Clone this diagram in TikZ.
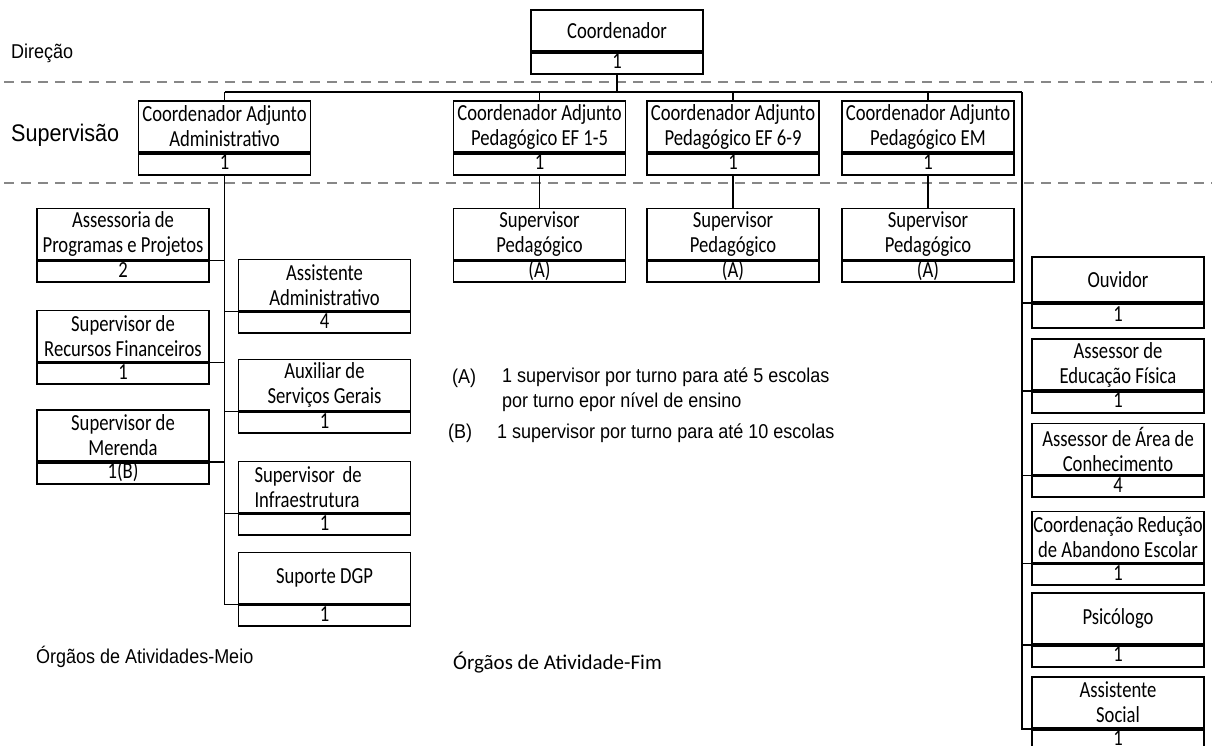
\documentclass[tikz,border=0pt]{standalone}
\usepackage{fontspec}
\usepackage{xcolor}
\usetikzlibrary{positioning}
\newfontfamily\boxfont[FakeStretch=0.81]{Carlito}
\newfontfamily\fimfont{Carlito}
\newfontfamily\labelfont[FakeStretch=0.9]{Liberation Sans}
\definecolor{sepgray}{RGB}{135,135,135}

\tikzset{
  namebox/.style={draw, line width=1.8pt, minimum width=172pt, minimum height=51pt,
    inner sep=0pt, align=center, font=\boxfont\fontsize{23}{25}\selectfont},
  countbox/.style={draw, line width=1.8pt, minimum width=172pt, minimum height=21pt,
    inner sep=0pt, text height=16pt, text depth=5pt, font=\boxfont\fontsize{23}{25}\selectfont},
  link/.style={line width=1.4pt},
  sepline/.style={sepgray, line width=1.4pt, dash pattern=on 10pt off 7pt},
  levellabel/.style={anchor=west, inner sep=0pt, font=\labelfont\fontsize{20}{25}\selectfont},
}

\begin{document}
\begin{tikzpicture}[x=1pt, y=-1pt, node distance=0pt]
  \useasboundingbox (0,0) rectangle (1212,745);

  % faixas
  \draw[sepline] (4,82)  -- (1212,82);
  \draw[sepline] (4,183) -- (1212,183);
  \node[levellabel] (dir) at (11,53) {Direção};
  \node[levellabel, font=\labelfont\fontsize{24}{28}\selectfont] (sup) at (11,135) {Supervisão};
  \node[levellabel] (meio) at (36,657) {Órgãos de Atividades-Meio};
  \node[levellabel, font=\fimfont\fontsize{21}{25}\selectfont] (fim) at (453,663) {Órgãos de Atividade-Fim};

  % direção
  \node[namebox, minimum height=41pt] (coord) at (617,30.5) {Coordenador};
  \node[countbox, minimum height=20pt, below=of coord] (coordn) {1};

  % supervisão
  \node[namebox] (adm)  at (224.5,126.5) {Coordenador Adjunto\\Administrativo};
  \node[countbox, below=of adm] (admn) {1};
  \node[namebox] (ef15) at (539.5,126.5) {Coordenador Adjunto\\Pedagógico EF 1-5};
  \node[countbox, below=of ef15] (ef15n) {1};
  \node[namebox] (ef69) at (733,126.5) {Coordenador Adjunto\\Pedagógico EF 6-9};
  \node[countbox, below=of ef69] (ef69n) {1};
  \node[namebox] (em)   at (928,126.5) {Coordenador Adjunto\\Pedagógico EM};
  \node[countbox, below=of em] (emn) {1};

  % supervisores pedagógicos
  \node[namebox] (sp1) at (539.5,234) {Supervisor\\Pedagógico};
  \node[countbox, below=of sp1] (sp1n) {(A)};
  \node[namebox] (sp2) at (733,234) {Supervisor\\Pedagógico};
  \node[countbox, below=of sp2] (sp2n) {(A)};
  \node[namebox] (sp3) at (928,234) {Supervisor\\Pedagógico};
  \node[countbox, below=of sp3] (sp3n) {(A)};

  % atividades-meio
  \node[namebox] (asp) at (123,234) {Assessoria de\\Programas e Projetos};
  \node[countbox, below=of asp] (aspn) {2};
  \node[namebox] (srf) at (123,336) {Supervisor de\\Recursos Financeiros};
  \node[countbox, below=of srf] (srfn) {1};
  \node[namebox] (smer) at (123,435.5) {Supervisor de\\Merenda};
  \node[countbox, below=of smer] (smern) {1(B)};
  \node[namebox] (asad) at (324.5,285) {Assistente\\Administrativo};
  \node[countbox, below=of asad] (asadn) {4};
  \node[namebox] (aux) at (324.5,385) {Auxiliar de\\Serviços Gerais};
  \node[countbox, below=of aux] (auxn) {1};
  \node[namebox, text width=140pt, align=left] (inf) at (324.5,487) {Supervisor de\\Infraestrutura};
  \node[countbox, below=of inf] (infn) {1};
  \node[namebox] (dgp) at (324.5,578) {Suporte DGP};
  \node[countbox, below=of dgp] (dgpn) {1};

  % atividade-fim
  \node[namebox, minimum height=45pt] (ouv) at (1118,279.5) {Ouvidor};
  \node[countbox, minimum height=24pt, below=of ouv] (ouvn) {1};
  \node[namebox] (edf) at (1118,364.5) {Assessor de\\Educação Física};
  \node[countbox, below=of edf] (edfn) {1};
  \node[namebox] (area) at (1118,449) {Assessor de Área de\\Conhecimento};
  \node[countbox, below=of area] (arean) {4};
  \node[namebox] (crae) at (1118,537) {Coordenação Redução\\de Abandono Escolar};
  \node[countbox, below=of crae] (craen) {1};
  \node[namebox] (psi) at (1118,618.5) {Psicólogo};
  \node[countbox, below=of psi] (psin) {1};
  \node[namebox] (asoc) at (1118,702.5) {Assistente\\Social};
  \node[countbox, below=of asoc] (asocn) {1};

  % notas
  \node[levellabel] (notaA) at (452,378) {(A)};
  \node[levellabel, anchor=north west, align=left] (textoA) at (502,368) {1 supervisor por turno para até 5 escolas\\por turno epor nível de ensino};
  \node[levellabel] (notaB) at (448,433) {(B)};
  \node[levellabel] (textoB) at (497,433) {1 supervisor por turno para até 10 escolas};

  % ligações
  \coordinate (busL) at (224.5,92);
  \coordinate (busR) at (1022,92);
  \draw[link] (busL) -- (busR);
  \draw[link] (coordn.south) -- (coordn.south |- busL);
  \foreach \b in {adm,ef15,ef69,em}
    \draw[link] (\b.north) -- (\b.north |- busL);
  \draw[link] (ef15n.south) -- (sp1.north);
  \draw[link] (ef69n.south) -- (sp2.north);
  \draw[link] (emn.south) -- (sp3.north);
  \draw[link] (admn.south) |- (dgp.south west);
  \foreach \b in {asp,srf,smer}
    \draw[link] (\b.south east) -- (\b.south east -| admn.south);
  \foreach \b in {asad,aux,inf}
    \draw[link] (\b.south west) -- (\b.south west -| admn.south);
  \draw[link] (busR) |- (asoc.south west);
  \foreach \b in {ouv,edf,area,crae,psi}
    \draw[link] (\b.south west) -- (\b.south west -| busR);
\end{tikzpicture}
\end{document}
